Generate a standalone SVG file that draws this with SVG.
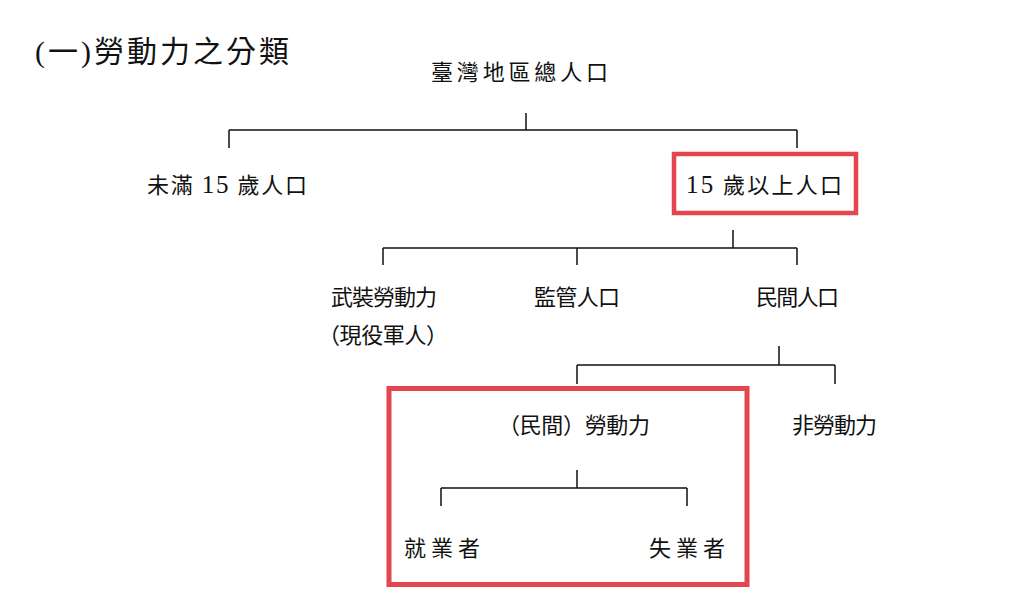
<svg xmlns="http://www.w3.org/2000/svg" width="1024" height="597" viewBox="0 0 1024 597">
<style>
text{font-family:"Liberation Serif","Noto Sans CJK TC",serif;fill:#111;font-size:22px}
.t{font-size:30px;letter-spacing:3px}
.d{font-size:25px}
.ln{stroke:#111;stroke-width:1.5;fill:none}
.hl{stroke:#e4464f;fill:none}
</style>
<rect width="1024" height="597" fill="#fff"/>
<text class="t" x="35" y="62">(一)勞動力之分類</text>
<g id="connectors">
<path class="ln" d="M526,113V130M229,130H797M229,130V148M797,130V148"/>
<path class="ln" d="M733,230V248M383,248H797M383,248V265M577,248V265M797,248V265"/>
<path class="ln" d="M779,346V365M577,365H835M577,365V384M835,365V384"/>
<path class="ln" d="M577,470V488M441,488H687M441,488V506M687,488V506"/>
</g>
<g id="n-total"><text x="431" y="80" textLength="177" lengthAdjust="spacing">臺灣地區總人口</text></g>
<g id="n-under15"><text x="147" y="193" textLength="160" lengthAdjust="spacing">未滿 <tspan class="d">15</tspan> 歲人口</text></g>
<g id="n-over15">
<rect class="hl" x="674" y="154" width="182" height="59" stroke-width="4.5"/>
<text x="686" y="193" textLength="156" lengthAdjust="spacing"><tspan class="d">15</tspan> 歲以上人口</text>
</g>
<g id="n-armed">
<text x="331" y="305" textLength="106" lengthAdjust="spacing">武裝勞動力</text>
<text x="318" y="343" textLength="130" lengthAdjust="spacing">（現役軍人）</text>
</g>
<g id="n-supervised"><text x="534" y="305" textLength="86" lengthAdjust="spacing">監管人口</text></g>
<g id="n-civil"><text x="756" y="305" textLength="83" lengthAdjust="spacing">民間人口</text></g>
<g id="n-labor">
<rect class="hl" x="389" y="388.5" width="358" height="196" stroke-width="5"/>
<text x="498" y="433" textLength="152" lengthAdjust="spacing">（民間）勞動力</text>
</g>
<g id="n-nonlabor"><text x="792" y="433" textLength="85" lengthAdjust="spacing">非勞動力</text></g>
<g id="n-employed"><text x="404" y="556" textLength="76" lengthAdjust="spacing">就業者</text></g>
<g id="n-unemployed"><text x="649" y="556" textLength="76" lengthAdjust="spacing">失業者</text></g>
</svg>
